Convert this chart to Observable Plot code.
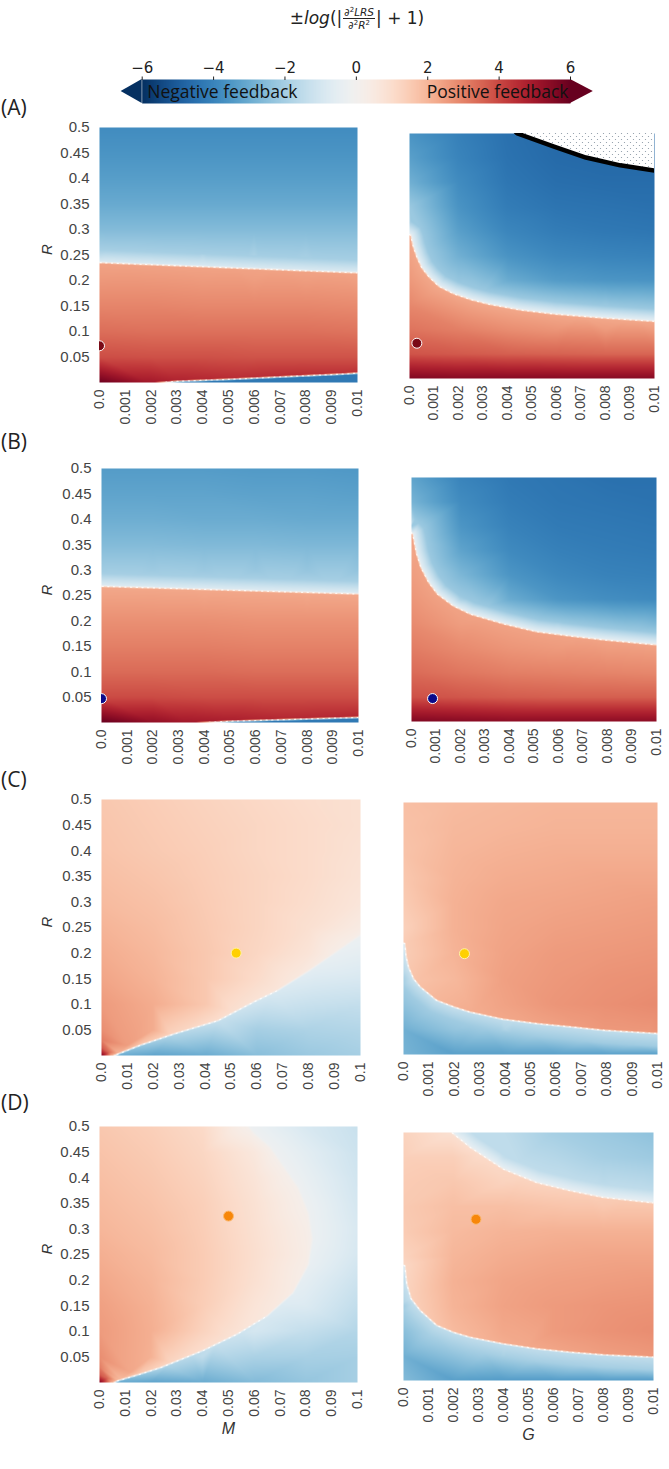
<!DOCTYPE html>
<html>
<head>
<meta charset="utf-8">
<script src="https://cdn.jsdelivr.net/npm/d3@7"></script>
<script src="https://cdn.jsdelivr.net/npm/@observablehq/plot@0.6"></script>
<style>
  body { margin: 0; background: #fff; }
  #fig { position: relative; width: 669px; height: 1469px; overflow: hidden; font-family: "Liberation Sans", Arial, sans-serif; }
  .tag { position: absolute; left: 1px; font-family: "Open Sans", sans-serif; font-size: 21px; color: #222; line-height: 1; }
  #title { position: absolute; left: 207px; width: 300px; top: 6px; text-align: center; font-family: "DejaVu Sans", sans-serif; font-size: 17px; color: #222; white-space: nowrap; }
  #title .frac { display: inline-block; vertical-align: middle; text-align: center; font-size: 10.5px; line-height: 1.15; margin: 0 1px; }
  #title .num { display: block; border-bottom: 1px solid #222; padding: 0 1px; }
  #title .den { display: block; padding: 0 1px; }
  #title sup { font-size: 7px; vertical-align: 4px; }
</style>
</head>
<body>
<div id="fig">
  <div id="title">±<i>log</i>(|<span class="frac"><span class="num">∂<sup>2</sup><i>LRS</i></span><span class="den">∂<sup>2</sup><i>R</i><sup>2</sup></span></span>| + 1)</div>
</div>
<script>
// ---------- axis ticks ----------
const barTicks = [-6, -4, -2, 0, 2, 4, 6];
const barTickLabels = ["−6", "−4", "−2", "0", "2", "4", "6"];
const rTicks = [0.05, 0.1, 0.15, 0.2, 0.25, 0.3, 0.35, 0.4, 0.45, 0.5];
const rTickLabels = ["0.05", "0.1", "0.15", "0.2", "0.25", "0.3", "0.35", "0.4", "0.45", "0.5"];
const fineTicks = [0, 0.001, 0.002, 0.003, 0.004, 0.005, 0.006, 0.007, 0.008, 0.009, 0.01];
const fineTickLabels = ["0.0", "0.001", "0.002", "0.003", "0.004", "0.005", "0.006", "0.007", "0.008", "0.009", "0.01"];
const coarseTicks = [0, 0.01, 0.02, 0.03, 0.04, 0.05, 0.06, 0.07, 0.08, 0.09, 0.1];
const coarseTickLabels = ["0.0", "0.01", "0.02", "0.03", "0.04", "0.05", "0.06", "0.07", "0.08", "0.09", "0.1"];

// ---------- sampling grid of each field ----------
const gridR = [0.5, 0.45, 0.4, 0.35, 0.3, 0.25, 0.2, 0.15, 0.1, 0.05, 0];   // grid rows, top to bottom
const fineCols = [0, 0.002, 0.004, 0.006, 0.008, 0.01];                     // G, or M in (A)/(B)
const coarseCols = [0, 0.02, 0.04, 0.06, 0.08, 0.1];                        // M in (C)/(D)
// grid values: ±log(|d²LRS/d²R²|+1); null where a node sits on a sign change
// boundaries: [x, R, value just left of travel, value just right of travel,
//              value a little further left, value a little further right]

// (A) left, x = M
const aLeftGrid = [
  [-3.8, -3.8, -3.8, -3.8, -3.8, -3.8],
  [-3.6, -3.6, -3.6, -3.6, -3.6, -3.6],
  [-3.35, -3.35, -3.35, -3.35, -3.35, -3.35],
  [-3.05, -3.05, -3.05, -3.05, -3.05, -3.05],
  [-2.6, -2.6, -2.6, -2.6, -2.6, -2.6],
  [-1.6, -1.7, -1.8, -1.9, -2.0, -2.1],
  [2.6, 2.6, 2.55, 2.5, 2.5, 2.45],
  [2.95, 2.95, 2.9, 2.9, 2.9, 2.85],
  [3.35, 3.3, 3.3, 3.3, 3.3, 3.25],
  [3.9, 3.85, 3.85, 3.8, 3.8, 3.8],
  [5.9, null, -4.3, -4.3, -4.3, -4.3]];
const aLeftBoundary = [[-0.0002,0.2355,-0.9,2.4,-2.0,null],[0.001,0.233,-0.9,2.4,-2.0,null],[0.002,0.231,-0.9,2.4,-2.0,null],[0.003,0.229,-0.9,2.4,-2.0,null],[0.004,0.227,-0.9,2.4,-2.0,null],[0.005,0.225,-0.9,2.4,-2.0,null],[0.006,0.223,-0.9,2.4,-2.0,null],[0.007,0.221,-0.9,2.4,-2.0,null],[0.008,0.219,-0.9,2.4,-2.0,null],[0.009,0.217,-0.9,2.4,-2.0,null],[0.0102,0.2147,-0.9,2.4,-2.0,null]];
const aLeftStrip = [[0.0019,-0.002,5.0,-4.3],[0.003,0.0022,4.7,-4.3],[0.0052,0.0066,4.5,-4.3],[0.0074,0.0118,4.5,-4.3],[0.0094,0.0164,4.4,-4.3],[0.0102,0.0188,4.4,-4.3]];
const aLeftDot = [[0, 0.072]];

// (A) right, x = G
const aRightGrid = [
  [-3.6, -4.1, -4.5, -4.7, -4.7, -4.7],
  [-3.3, -4.0, -4.45, -4.65, -4.7, -4.7],
  [-2.9, -3.8, -4.35, -4.55, -4.6, -4.6],
  [-2.2, -3.6, -4.2, -4.4, -4.45, -4.5],
  [null, -3.3, -3.95, -4.2, -4.3, -4.35],
  [2.4, -2.9, -3.6, -3.9, -4.0, -4.05],
  [2.6, -2.3, -3.0, -3.4, -3.55, -3.6],
  [2.9, 2.5, null, -1.8, -2.2, -2.4],
  [3.25, 3.05, 2.8, 2.65, 2.55, 2.5],
  [3.8, 3.7, 3.6, 3.55, 3.5, 3.5],
  [5.6, 5.5, 5.5, 5.5, 5.5, 5.5]];
const aRightBoundary = [[-0.0002,0.30,-0.6,2.3,-2.2,null],[0.00005,0.292,-0.6,2.3,-2.2,null],[0.00015,0.27,-0.6,2.3,-2.2,null],[0.0003,0.248,-0.6,2.3,-2.2,null],[0.0005,0.226,-0.6,2.3,-2.2,null],[0.0008,0.207,-0.6,2.3,-2.2,null],[0.0012,0.188,-0.6,2.3,-2.2,null],[0.0018,0.173,-0.6,2.3,-2.2,null],[0.0025,0.161,-0.6,2.3,-2.2,null],[0.0032,0.152,-0.6,2.3,-2.2,null],[0.0045,0.14,-0.6,2.3,-2.2,null],[0.0059,0.1316,-0.6,2.3,-2.2,null],[0.0079,0.1235,-0.6,2.3,-2.2,null],[0.0102,0.116,-0.6,2.3,-2.2,null]];
const aRightLimit = [[0.0042,0.51],[0.0044,0.5],[0.0059,0.473],[0.0072,0.451],[0.0086,0.435],[0.0102,0.423]];
const aRightDot = [[0.0003, 0.072]];

// (B) left, x = M
const bLeftGrid = [
  [-3.4, -3.4, -3.4, -3.45, -3.45, -3.5],
  [-3.2, -3.2, -3.2, -3.25, -3.25, -3.3],
  [-2.95, -2.95, -3.0, -3.0, -3.05, -3.05],
  [-2.6, -2.6, -2.65, -2.65, -2.7, -2.7],
  [-2.1, -2.15, -2.2, -2.25, -2.3, -2.35],
  [2.4, 2.4, 2.35, 2.35, 2.3, null],
  [2.75, 2.75, 2.75, 2.7, 2.7, 2.7],
  [3.05, 3.05, 3.05, 3.0, 3.0, 3.0],
  [3.4, 3.4, 3.4, 3.35, 3.35, 3.35],
  [3.95, 3.95, 3.9, 3.9, 3.9, 3.9],
  [6.0, 5.3, null, -4.3, -4.3, -4.3]];
const bLeftBoundary = [[-0.0002,0.2683,-0.8,2.3,-2.0,null],[0.001,0.2665,-0.8,2.3,-2.0,null],[0.002,0.265,-0.8,2.3,-2.0,null],[0.003,0.2635,-0.8,2.3,-2.0,null],[0.004,0.262,-0.8,2.3,-2.0,null],[0.005,0.2605,-0.8,2.3,-2.0,null],[0.006,0.259,-0.8,2.3,-2.0,null],[0.007,0.2575,-0.8,2.3,-2.0,null],[0.008,0.256,-0.8,2.3,-2.0,null],[0.009,0.2545,-0.8,2.3,-2.0,null],[0.0102,0.2527,-0.8,2.3,-2.0,null]];
const bLeftStrip = [[0.0033,-0.002,5.0,-4.3],[0.005,0.0024,4.8,-4.3],[0.0072,0.0057,4.6,-4.3],[0.0102,0.0102,4.6,-4.3]];
const bLeftDot = [[0, 0.047]];

// (B) right, x = G
const bRightGrid = [
  [-3.2, -4.0, -4.3, -4.4, -4.5, -4.5],
  [-2.8, -3.8, -4.2, -4.35, -4.4, -4.45],
  [-2.2, -3.55, -4.05, -4.25, -4.3, -4.35],
  [2.3, -3.2, -3.85, -4.1, -4.2, -4.25],
  [2.5, -2.7, -3.55, -3.9, -4.05, -4.1],
  [2.65, -1.9, -3.0, -3.55, -3.75, -3.85],
  [2.85, 2.5, null, -1.9, -2.4, -2.7],
  [3.1, 2.85, 2.65, 2.55, 2.5, 2.45],
  [3.4, 3.2, 3.05, 3.0, 2.95, 2.9],
  [3.85, 3.75, 3.65, 3.6, 3.6, 3.6],
  [5.6, 5.5, 5.4, 5.4, 5.4, 5.4]];
const bRightBoundary = [[-0.0002,0.395,-0.6,2.4,-2.2,null],[0.00005,0.384,-0.6,2.4,-2.2,null],[0.0002,0.345,-0.6,2.4,-2.2,null],[0.00038,0.316,-0.6,2.4,-2.2,null],[0.0007,0.285,-0.6,2.4,-2.2,null],[0.00106,0.261,-0.6,2.4,-2.2,null],[0.0017,0.237,-0.6,2.4,-2.2,null],[0.0024,0.22,-0.6,2.4,-2.2,null],[0.0038,0.1995,-0.6,2.4,-2.2,null],[0.0051,0.184,-0.6,2.4,-2.2,null],[0.0065,0.175,-0.6,2.4,-2.2,null],[0.0079,0.167,-0.6,2.4,-2.2,null],[0.0102,0.156,-0.6,2.4,-2.2,null]];
const bRightDot = [[0.00086, 0.047]];

// (C) left, x = M
const cLeftGrid = [
  [1.6, 1.45, 1.3, 1.15, 1.0, 0.9],
  [1.65, 1.5, 1.35, 1.2, 1.05, 0.9],
  [1.7, 1.55, 1.4, 1.2, 1.05, 0.85],
  [1.8, 1.65, 1.45, 1.25, 1.05, 0.8],
  [1.9, 1.75, 1.5, 1.25, 1.0, 0.7],
  [2.05, 1.85, 1.55, 1.25, 0.9, 0.45],
  [2.2, 1.95, 1.6, 1.2, 0.75, -0.5],
  [2.35, 2.05, 1.6, 1.05, null, -0.9],
  [2.55, 2.2, 1.6, null, -1.3, -1.4],
  [2.8, 2.2, null, -2.0, -1.85, -1.75],
  [5.6, -3.2, -3.0, -2.5, -2.2, -2.0]];
const cLeftCorner = [[0.003,0.006,3.4],[0,0.015,3.7],[0.01,0.02,2.5],[0,0.03,3.1]];
const cLeftBoundary = [[0.004,-0.002,2.2,-3.1],[0.008,0.006,2.0,-2.8],[0.015,0.02,1.7,-2.3],[0.028,0.042,1.3,-1.8],[0.045,0.068,1.0,-1.4],[0.059,0.105,0.8,-1.1],[0.068,0.127,0.7,-0.9],[0.08,0.165,0.5,-0.6],[0.09,0.2,0.35,-0.4],[0.102,0.242,0.25,-0.25]];
const cLeftDot = [[0.052, 0.2]];

// (C) right, x = G
const cRightGrid = [
  [1.8, 1.9, 1.95, 2.0, 2.0, 2.0],
  [1.75, 1.95, 2.0, 2.05, 2.05, 2.05],
  [1.7, 2.0, 2.1, 2.15, 2.15, 2.15],
  [1.6, 2.05, 2.2, 2.25, 2.3, 2.3],
  [1.5, 2.1, 2.3, 2.35, 2.4, 2.45],
  [1.35, 2.1, 2.35, 2.45, 2.5, 2.55],
  [-1.5, 2.05, 2.4, 2.55, 2.6, 2.65],
  [-2.0, 1.95, 2.45, 2.6, 2.7, 2.75],
  [-2.4, null, 2.4, 2.65, 2.75, 2.85],
  [-2.9, -2.3, -1.8, null, null, 2.7],
  [-2.8, -3.3, -3.3, -3.3, -3.3, -3.3]];
const cRightBoundary = [[-0.0002,0.225,1.5,-1.2,null,-2.1],[0.00005,0.22,1.5,-1.2,null,-2.1],[0.0001,0.195,1.5,-1.2,null,-2.1],[0.0002,0.173,1.6,-1.3,null,-2.1],[0.0004,0.15,1.7,-1.3,null,-2.1],[0.00066,0.134,1.8,-1.4,null,-2.1],[0.0013,0.1075,2.0,-1.4,null,-2.1],[0.002,0.094,2.1,-1.4,null,-2.1],[0.0026,0.0844,2.2,-1.5,null,-2.1],[0.0039,0.07,2.3,-1.5,null,-2.1],[0.0053,0.061,2.4,-1.5,null,-2.1],[0.0066,0.0547,2.5,-1.5,null,-2.1],[0.0079,0.048,2.6,-1.5,null,-2.1],[0.0102,0.041,2.6,-1.5,null,-2.1]];
const cRightDot = [[0.0024, 0.2]];

// (D) left, x = M
const dLeftGrid = [
  [1.6, 1.4, 1.1, null, -0.9, -1.3],
  [1.7, 1.5, 1.2, 0.6, -0.6, -1.2],
  [1.8, 1.6, 1.3, 0.75, -0.4, -1.1],
  [1.9, 1.7, 1.4, 0.85, null, -1.0],
  [2.0, 1.8, 1.45, 0.9, 0.3, -0.9],
  [2.15, 1.9, 1.5, 0.95, 0.35, -0.95],
  [2.3, 2.0, 1.5, 0.9, null, -1.2],
  [2.45, 2.1, 1.45, 0.75, -0.8, -1.45],
  [2.55, 2.15, 1.3, -1.0, -1.4, -1.75],
  [2.8, 2.1, -1.5, -1.9, -1.95, -2.0],
  [5.6, -3.2, -3.0, -2.6, -2.3, -2.0]];
const dLeftCorner = [[0.003,0.008,3.5],[0,0.015,3.7],[0.012,0.02,2.3],[0,0.03,3.1]];
const dLeftBoundary = [[0.005,-0.002,2.2,-3.1],[0.0069,0.003,2.0,-3.0],[0.015,0.015,1.6,-2.4],[0.0237,0.029,1.3,-1.9],[0.04,0.062,1.0,-1.5],[0.0534,0.0945,0.8,-1.2],[0.065,0.13,0.6,-0.9],[0.075,0.175,0.4,-0.6],[0.081,0.23,0.25,-0.4],[0.0825,0.28,0.2,-0.3],[0.081,0.33,0.2,-0.25],[0.077,0.38,0.2,-0.2],[0.0715,0.42,0.2,-0.2],[0.066,0.46,0.2,-0.2],[0.06,0.486,0.2,-0.2],[0.056,0.51,0.2,-0.2]];
const dLeftDot = [[0.05, 0.325]];

// (D) right, x = G
const dRightGrid = [
  [1.3, null, -1.5, -2.0, -2.2, -2.4],
  [1.4, 1.4, -1.4, -1.7, -2.0, -2.15],
  [1.5, 1.6, 1.3, null, -1.6, -1.7],
  [1.55, 1.8, 1.8, 1.7, 1.6, null],
  [1.5, 1.9, 2.05, 2.1, 2.1, 2.1],
  [1.3, 2.0, 2.2, 2.3, 2.35, 2.35],
  [-1.6, 2.1, 2.35, 2.45, 2.5, 2.55],
  [-2.1, 2.05, 2.4, 2.55, 2.65, 2.7],
  [-2.5, null, 2.3, 2.55, 2.7, 2.8],
  [-2.9, -2.4, -1.9, null, null, null],
  [-2.6, -3.3, -3.4, -3.4, -3.4, -3.4]];
const dRightLower = [[-0.0002,0.235,1.2,-1.2,null,-2.0],[0.00005,0.2315,1.2,-1.2,null,-2.0],[0.00013,0.195,1.3,-1.3,null,-2.0],[0.0003,0.165,1.4,-1.4,null,-2.0],[0.00067,0.141,1.5,-1.5,null,-2.0],[0.00133,0.111,1.7,-1.5,null,-2.0],[0.002,0.097,1.9,-1.5,null,-2.0],[0.00267,0.087,2.0,-1.5,null,-2.0],[0.004,0.0738,2.2,-1.5,null,-2.0],[0.00533,0.0638,2.3,-1.5,null,-2.0],[0.00667,0.057,2.4,-1.5,null,-2.0],[0.008,0.0517,2.5,-1.5,null,-2.0],[0.0102,0.0465,2.6,-1.5,null,-2.0]];
const dRightUpper = [[0.0019,0.51,-0.5,0.9,-1.5,null],[0.00193,0.5,-0.5,0.9,-1.5,null],[0.00267,0.47,-0.5,1.0,-1.5,null],[0.004,0.426,-0.5,1.2,-1.5,null],[0.00533,0.399,-0.5,1.3,-1.5,null],[0.00667,0.3826,-0.5,1.4,-1.5,null],[0.008,0.369,-0.5,1.5,-1.5,null],[0.0102,0.357,-0.5,1.6,-1.5,null]];
const dRightDot = [[0.0029, 0.325]];

// ---------- drawing ----------
const fig = document.getElementById("fig");
const FONT = '"Liberation Sans", Arial, sans-serif';
const colorOpts = {type: "linear", domain: [-6, 6], scheme: "rdbu", reverse: true};
const EPS = 0.004;   // half-width of a sign change, as a share of the panel
const HALO = 0.05;   // distance of the "further" boundary values, as a share of the panel
const STEP = 0.015;  // spacing of the paired samples along a boundary

function place(node, left, top) {
  node.style.position = "absolute";
  node.style.left = left + "px";
  node.style.top = top + "px";
  node.style.maxWidth = "none";
  fig.appendChild(node);
}

// finer steps along a boundary, so the paired samples hug it closely
function densify(c, xMax) {
  const out = [];
  const mix = (u, w, t) => (u == null || w == null) ? null : u + (w - u) * t;
  for (let i = 0; i < c.length - 1; i++) {
    const a = c[i], b = c[i + 1];
    const n = Math.max(1, Math.ceil(Math.hypot((b[0] - a[0]) / xMax, (b[1] - a[1]) / 0.5) / STEP));
    for (let k = 0; k < n; k++) out.push(a.map((v, j) => mix(v, b[j], k / n)));
  }
  out.push(c[c.length - 1]);
  return out;
}

// grid nodes plus paired samples straddling each boundary
function fieldPoints(grid, cols, curves, xMax, loose = []) {
  const pts = [];
  grid.forEach((row, i) => row.forEach((v, j) => { if (v != null) pts.push({x: cols[j], r: gridR[i], v}); }));
  for (const [x, r, v] of loose) pts.push({x, r, v});
  for (const c0 of curves) {
    const c = densify(c0, xMax);
    c.forEach(([x, r, vL, vR, hL, hR], i) => {
      const a = c[Math.max(0, i - 1)], b = c[Math.min(c.length - 1, i + 1)];
      const dx = (b[0] - a[0]) / xMax, dy = (b[1] - a[1]) / 0.5;
      const len = Math.hypot(dx, dy) || 1;
      const nx = -dy / len, ny = dx / len;
      pts.push({x: x + nx * EPS * xMax, r: r + ny * EPS * 0.5, v: vL});
      pts.push({x: x - nx * EPS * xMax, r: r - ny * EPS * 0.5, v: vR});
      if (hL != null) pts.push({x: x + nx * HALO * xMax, r: r + ny * HALO * 0.5, v: hL});
      if (hR != null) pts.push({x: x - nx * HALO * xMax, r: r - ny * HALO * 0.5, v: hR});
    });
  }
  return pts;
}

// the speckled seam is only visible where the sign flips abruptly
function seam(c) {
  return c.map(([x, r, vL, vR]) => Math.abs(vL - vR) >= 1.4 ? [x, r] : [NaN, NaN]);
}

function panel({frame, xMax, cols, ticks, labels, grid, loose, curves, dot, dotFill, dotStroke, yAxis, xTitle, extra = [], defs}) {
  const [x0, x1, y0, y1] = frame;
  const mL = yAxis ? x0 : 8, mR = 10, mT = 10, mB = 72;
  const xLabel = new Map(ticks.map((t, i) => [t, labels[i]]));
  const rLabel = new Map(rTicks.map((t, i) => [t, rTickLabels[i]]));
  const marks = [
    Plot.raster(fieldPoints(grid, cols, curves, xMax, loose), {x: "x", y: "r", fill: "v", interpolate: "barycentric"}),
    ...curves.map(c => Plot.line(seam(c), {x: d => d[0], y: d => d[1], stroke: "white", strokeWidth: 1.2, strokeDasharray: "1.2,4.5", strokeOpacity: 0.75, clip: true})),
    ...extra,
    Plot.dot(dot, {x: d => d[0], y: d => d[1], r: 5, fill: dotFill, stroke: dotStroke, strokeWidth: 1, clip: true}),
    Plot.axisX(ticks, {tickRotate: -90, tickSize: 0, tickPadding: 7, tickFormat: d => xLabel.get(d), fontSize: 14, fill: "#444", label: null})
  ];
  if (yAxis) {
    marks.push(
      Plot.axisY(rTicks, {tickSize: 0, tickPadding: 10, tickFormat: d => rLabel.get(d), fontSize: 15, fill: "#444", label: null}),
      Plot.text(["R"], {text: d => d, y: () => 0.25, frameAnchor: "left", dx: -(x0 - 47), rotate: -90, fontStyle: "italic", fontSize: 15, fill: "#333"})
    );
  }
  if (xTitle) {
    marks.push(Plot.text([xTitle], {text: d => d, frameAnchor: "bottom", dy: yAxis ? 51 : 59, fontStyle: "italic", fontSize: 16, fill: "#333"}));
  }
  const svg = Plot.plot({
    width: mL + (x1 - x0) + mR,
    height: mT + (y1 - y0) + mB,
    marginLeft: mL, marginRight: mR, marginTop: mT, marginBottom: mB,
    x: {domain: [0, xMax], label: null},
    y: yAxis ? {domain: [0, 0.5], label: null} : {domain: [0, 0.5], label: null, axis: null},
    color: colorOpts,
    style: {fontFamily: FONT, fontSize: "14px", color: "#444", background: "transparent", overflow: "visible"},
    marks
  });
  if (defs) svg.insertAdjacentHTML("afterbegin", defs);
  place(svg, x0 - mL, y0 - mT);
}

// ---------- colour bar ----------
(function colorbar() {
  const barLabel = new Map(barTicks.map((t, i) => [t, barTickLabels[i]]));
  const svg = Plot.plot({
    width: 669, height: 110,
    marginLeft: 141.7, marginRight: 99, marginTop: 79, marginBottom: 7,
    x: {domain: [-6, 6], label: null},
    y: {domain: [0, 1], axis: null},
    color: colorOpts,
    style: {fontFamily: '"DejaVu Sans", sans-serif', fontSize: "15px", color: "#222", background: "transparent", overflow: "visible"},
    marks: [
      Plot.raster({x1: -6, x2: 6, y1: 0, y2: 1, width: 300, height: 1, fill: (x) => x}),
      Plot.areaY([{x: -6}, {x: -6.59}], {x: "x", y1: d => d.x === -6 ? 0 : 0.5, y2: d => d.x === -6 ? 1 : 0.5, fill: "#053061"}),
      Plot.areaY([{x: 6}, {x: 6.64}], {x: "x", y1: d => d.x === 6 ? 0 : 0.5, y2: d => d.x === 6 ? 1 : 0.5, fill: "#67001f"}),
      Plot.axisX(barTicks, {anchor: "top", tickSize: 3.5, tickPadding: 3, tickFormat: d => barLabel.get(d), fontSize: 15, fill: "#222", label: null}),
      Plot.text(["Negative feedback"], {text: d => d, x: () => -6, y: () => 0.5, dx: 5, dy: 1, textAnchor: "start", fontSize: 17.5, fontFamily: '"Open Sans", sans-serif', fill: "#111"}),
      Plot.text(["Positive feedback"], {text: d => d, x: () => 6, y: () => 0.5, dx: -2, dy: 1, textAnchor: "end", fontSize: 17.5, fontFamily: '"Open Sans", sans-serif', fill: "#111"})
    ]
  });
  place(svg, 0, 0);
})();

// ---------- panels ----------
const stipple = '<defs><pattern id="stipple" width="6" height="6" patternUnits="userSpaceOnUse"><rect width="6" height="6" fill="white"/><circle cx="1.5" cy="1.5" r="0.6" fill="#8896a3"/><circle cx="4.5" cy="4.5" r="0.6" fill="#8896a3"/></pattern></defs>';

panel({frame: [99, 357, 127, 382], xMax: 0.01, cols: fineCols, ticks: fineTicks, labels: fineTickLabels, grid: aLeftGrid, curves: [aLeftBoundary, aLeftStrip], dot: aLeftDot, dotFill: "#7a0a16", dotStroke: "white", yAxis: true});
panel({frame: [409, 654, 133, 378], xMax: 0.01, cols: fineCols, ticks: fineTicks, labels: fineTickLabels, grid: aRightGrid, curves: [aRightBoundary], dot: aRightDot, dotFill: "#7a0a16", dotStroke: "white", yAxis: false,
  defs: stipple,
  extra: [
    Plot.areaY(aRightLimit, {x: d => d[0], y1: d => d[1], y2: () => 0.52, fill: "url(#stipple)", clip: true}),
    Plot.line(aRightLimit, {x: d => d[0], y: d => d[1], stroke: "black", strokeWidth: 4.5, clip: true})
  ]});

panel({frame: [101, 358, 468, 722], xMax: 0.01, cols: fineCols, ticks: fineTicks, labels: fineTickLabels, grid: bLeftGrid, curves: [bLeftBoundary, bLeftStrip], dot: bLeftDot, dotFill: "#0a0a8a", dotStroke: "white", yAxis: true});
panel({frame: [411, 656, 477, 721], xMax: 0.01, cols: fineCols, ticks: fineTicks, labels: fineTickLabels, grid: bRightGrid, curves: [bRightBoundary], dot: bRightDot, dotFill: "#0a0a8a", dotStroke: "white", yAxis: false});

panel({frame: [101, 360, 799, 1055], xMax: 0.1, cols: coarseCols, ticks: coarseTicks, labels: coarseTickLabels, grid: cLeftGrid, loose: cLeftCorner, curves: [cLeftBoundary], dot: cLeftDot, dotFill: "#ffd000", dotStroke: "#fff2a8", yAxis: true});
panel({frame: [403, 657, 802, 1054], xMax: 0.01, cols: fineCols, ticks: fineTicks, labels: fineTickLabels, grid: cRightGrid, curves: [cRightBoundary], dot: cRightDot, dotFill: "#ffd000", dotStroke: "#fff2a8", yAxis: false});

panel({frame: [99, 357, 1126, 1382], xMax: 0.1, cols: coarseCols, ticks: coarseTicks, labels: coarseTickLabels, grid: dLeftGrid, loose: dLeftCorner, curves: [dLeftBoundary], dot: dLeftDot, dotFill: "#f7870a", dotStroke: "#fbb870", yAxis: true, xTitle: "M"});
panel({frame: [403, 653, 1132, 1380], xMax: 0.01, cols: fineCols, ticks: fineTicks, labels: fineTickLabels, grid: dRightGrid, curves: [dRightLower, dRightUpper], dot: dRightDot, dotFill: "#f7870a", dotStroke: "#fbb870", yAxis: false, xTitle: "G"});

// ---------- panel tags ----------
[["(A)", 97], ["(B)", 431], ["(C)", 769], ["(D)", 1092]].forEach(([t, top]) => {
  const d = document.createElement("div");
  d.className = "tag";
  d.textContent = t;
  d.style.top = top + "px";
  fig.appendChild(d);
});
</script>
</body>
</html>
